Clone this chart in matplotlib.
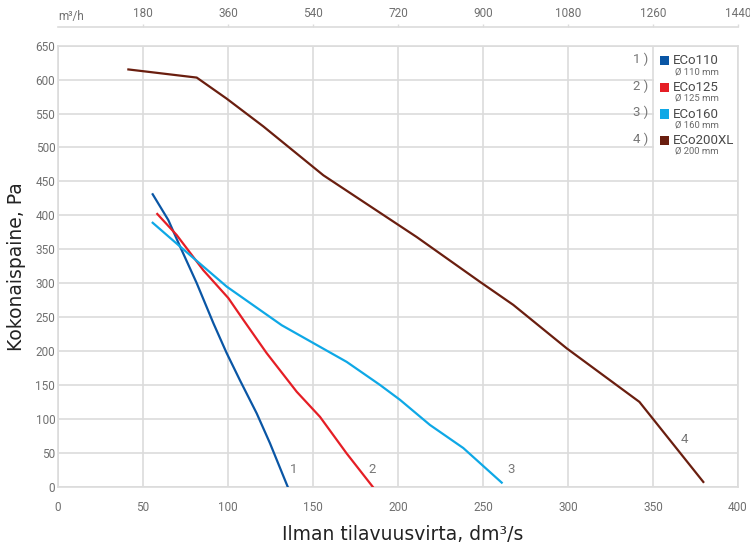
import matplotlib
matplotlib.use("Agg")
import matplotlib.pyplot as plt
from matplotlib.patches import Rectangle

# fan curves, airflow dm3/s vs total pressure Pa
eco110_x = [55.7, 64.9, 71.8, 81.6, 91.4, 99.2, 107.0, 116.9, 124.7, 135.1]
eco110_y = [431, 393, 354, 300, 241, 197, 157, 108, 64, 0]

eco125_x = [58.4, 69.8, 85.5, 100.2, 109.0, 122.7, 140.4, 154.1, 169.8, 185.1]
eco125_y = [402, 371, 319, 278, 246, 197, 140, 103, 49, 0]

eco160_x = [55.7, 71.8, 99.2, 131.6, 169.8, 189.4, 201.2, 218.8, 238.4, 261.0]
eco160_y = [389, 354, 295, 238, 184, 150, 128, 91, 57, 6]

eco200_x = [41.4, 81.6, 99.2, 120.8, 156.1, 211.0, 248.2, 267.8, 299.2, 342.0, 379.6]
eco200_y = [615, 603, 572, 531, 459, 368, 302, 268, 204, 125, 7]

names = ["ECo110", "ECo125", "ECo160", "ECo200XL"]
diams = ["Ø 110 mm", "Ø 125 mm", "Ø 160 mm", "Ø 200 mm"]
colors = ["#0a56a5", "#e51e25", "#0ea8e6", "#6a1e0f"]

# end labels next to curves
tag_x = [138.8, 184.7, 266.5, 368.4]
tag_y = [25.6, 25.6, 25.6, 69.9]

x_ticks = list(range(0, 401, 50))
y_ticks = list(range(0, 651, 50))
top_ticks = [180, 360, 540, 720, 900, 1080, 1260, 1440]

W, H = 750, 546
GRID = "#dcdcdc"
TICK = "#707070"


def fx(px):
    return px / W


def fy(py):
    return 1 - py / H


fig = plt.figure(figsize=(7.5, 5.46), dpi=100)
ax = fig.add_axes([fx(58), fy(486.7), (738 - 58) / W, (486.7 - 45.7) / H])

series = [(eco110_x, eco110_y), (eco125_x, eco125_y), (eco160_x, eco160_y), (eco200_x, eco200_y)]
for (xs, ys), c in zip(series, colors):
    ax.plot(xs, ys, color=c, lw=1.6, solid_joinstyle="miter", zorder=3)

for i, (tx, ty) in enumerate(zip(tag_x, tag_y)):
    ax.text(tx, ty, str(i + 1), color="#777777", fontsize=9.5, family="Roboto",
            ha="center", va="center", zorder=4)

ax.set_xlim(0, 400)
ax.set_ylim(0, 650)
ax.set_xticks(x_ticks)
ax.set_yticks(y_ticks)
ax.set_axisbelow(True)
ax.grid(True, color=GRID, lw=1.2)
for s in ax.spines.values():
    s.set_color(GRID)
    s.set_linewidth(1.2)
ax.tick_params(axis="x", length=0, pad=10, labelsize=8.5, labelcolor=TICK)
ax.tick_params(axis="y", length=0, pad=2, labelsize=8.5, labelcolor=TICK)
for lab in ax.get_xticklabels() + ax.get_yticklabels():
    lab.set_family("Roboto")

ax.set_xlabel("Ilman tilavuusvirta, dm³/s", fontsize=13.5, color="#222222", va="center")
ax.xaxis.set_label_coords(0.507, -0.1095)
ax.set_ylabel("Kokonaispaine, Pa", fontsize=13.5, color="#222222", va="center")
ax.yaxis.set_label_coords((17 - 58) / 680, 0.5)

# top axis in m3/h
sec = ax.secondary_xaxis("top", functions=(lambda v: v * 3.6, lambda v: v / 3.6))
sec.set_xticks(top_ticks)
sec.spines["top"].set_position(("outward", 13.5))
sec.spines["top"].set_color(GRID)
sec.spines["top"].set_linewidth(1.2)
sec.tick_params(axis="x", direction="out", length=2.2, width=1, color=GRID, pad=2.5,
                labelsize=8.5, labelcolor=TICK)
for lab in sec.get_xticklabels():
    lab.set_family("Roboto")
fig.text(fx(71), fy(16.7), "m³/h", fontsize=8.5, color=TICK, family="Roboto",
         ha="center", va="center")

# legend block
ax.add_patch(Rectangle((fx(653.5), fy(160)), fx(736.5) - fx(653.5), fy(46.5) - fy(160),
                       transform=fig.transFigure, facecolor="white", edgecolor="none", zorder=1))
name_y = [60.7, 87.4, 114.0, 140.5]
for i, (nm, dm, c, ny) in enumerate(zip(names, diams, colors, name_y)):
    fig.text(fx(648), fy(ny - 1.2), f"{i + 1} )", fontsize=9.5, color="#777777",
             family="Roboto", ha="right", va="center")
    fig.add_artist(Rectangle((fx(660), fy(ny + 4.5)), 9 / W, 9 / H, transform=fig.transFigure,
                             facecolor=c, edgecolor="none"))
    fig.text(fx(672.5), fy(ny), nm, fontsize=9.5, color="#4a4a4a", family="Roboto",
             ha="left", va="center")
    fig.text(fx(675), fy(ny + 11), dm, fontsize=6.8, color="#6a6a6a", family="Roboto",
             ha="left", va="center")

fig.savefig("out.png", dpi=100)
